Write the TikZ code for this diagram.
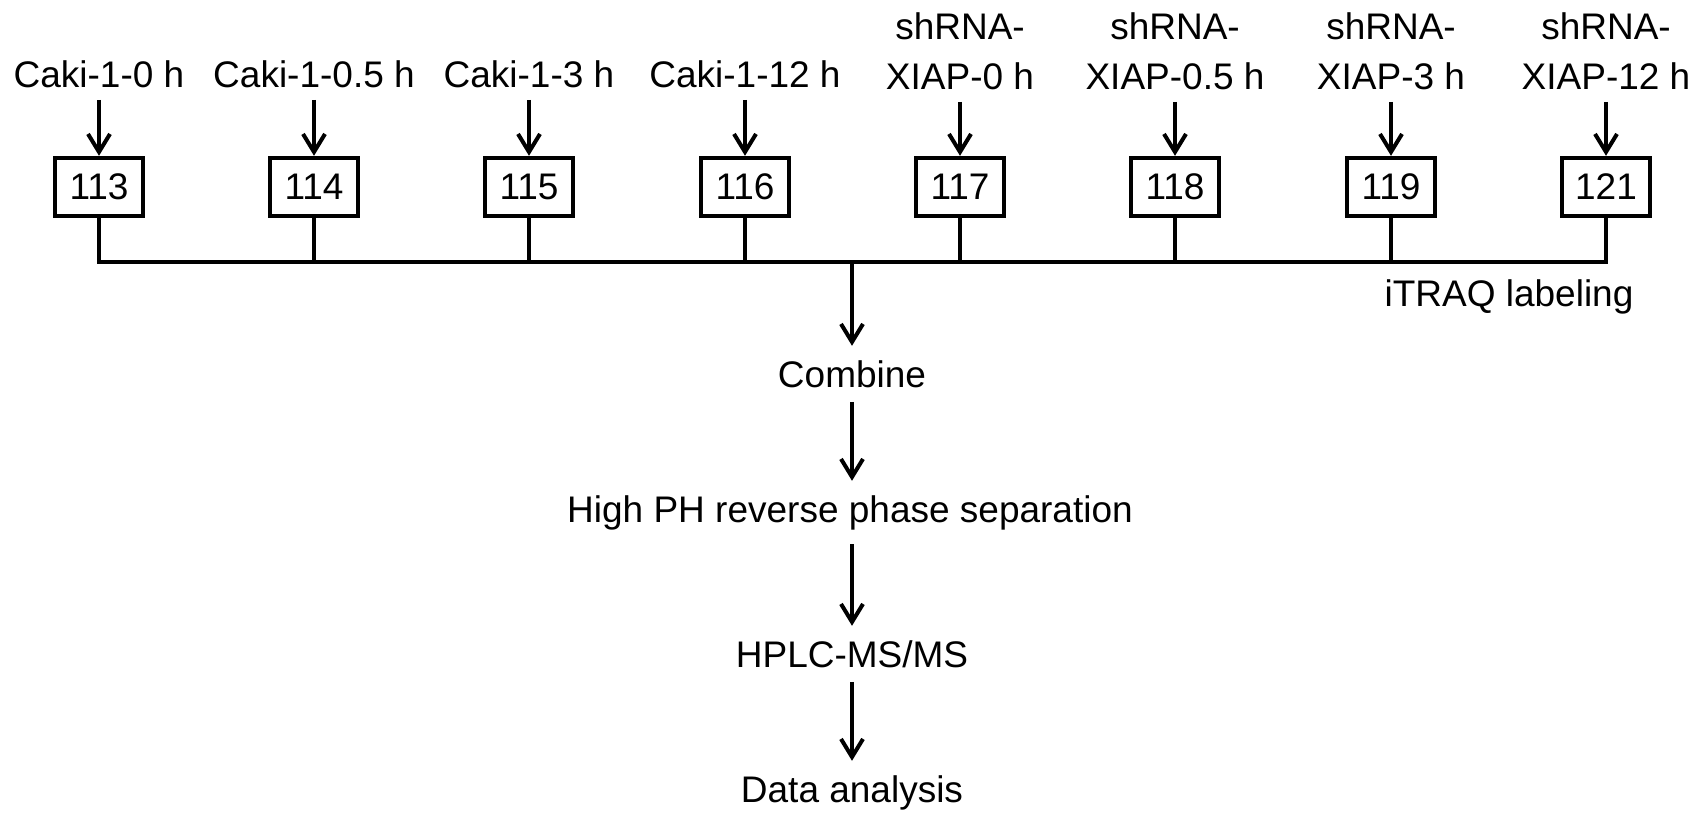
\documentclass[tikz,border=0pt]{standalone}
\usepackage{fontspec}
\setmainfont{Liberation Sans}
\usepackage{tikz}
\usetikzlibrary{positioning, arrows, arrows.meta}

\tikzset{
  tag/.style={draw, line width=2.2pt, minimum width=44pt, minimum height=29pt, inner sep=0pt},
  sample/.style={anchor=south, inner sep=6pt, align=center},
  stepnode/.style={anchor=base, inner sep=7pt},
  flow/.style={line width=2pt, -{Straight Barb[length=9pt, width=11pt]}},
  wire/.style={line width=2pt}
}

\begin{document}
\begin{tikzpicture}[x=0.5pt, y=-0.5pt, every node/.style={font=\fontsize{18.5}{25}\selectfont}]
\useasboundingbox (0,0) rectangle (1701,823);

% samples
\node[sample] (l113) at (99,100)   {Caki-1-0 h};
\node[sample] (l114) at (314,100)  {Caki-1-0.5 h};
\node[sample] (l115) at (529,100)  {Caki-1-3 h};
\node[sample] (l116) at (745,100)  {Caki-1-12 h};
\node[sample] (l117) at (960,102)  {shRNA-\\XIAP-0 h};
\node[sample] (l118) at (1175,102) {shRNA-\\XIAP-0.5 h};
\node[sample] (l119) at (1391,102) {shRNA-\\XIAP-3 h};
\node[sample] (l121) at (1606,102) {shRNA-\\XIAP-12 h};

% iTRAQ tags
\node[tag] (b113) at (99,187)   {113};
\node[tag] (b114) at (314,187)  {114};
\node[tag] (b115) at (529,187)  {115};
\node[tag] (b116) at (745,187)  {116};
\node[tag] (b117) at (960,187)  {117};
\node[tag] (b118) at (1175,187) {118};
\node[tag] (b119) at (1391,187) {119};
\node[tag] (b121) at (1606,187) {121};

\draw[flow] (l113) -- (b113);
\draw[flow] (l114) -- (b114);
\draw[flow] (l115) -- (b115);
\draw[flow] (l116) -- (b116);
\draw[flow] (l117) -- (b117);
\draw[flow] (l118) -- (b118);
\draw[flow] (l119) -- (b119);
\draw[flow] (l121) -- (b121);

% collecting line
\coordinate (busM) at (852,262);
\draw[wire] (b113.south) |- (b121.south |- busM) -- (b121.south);
\draw[wire] (b114.south) -- (b114.south |- busM);
\draw[wire] (b115.south) -- (b115.south |- busM);
\draw[wire] (b116.south) -- (b116.south |- busM);
\draw[wire] (b117.south) -- (b117.south |- busM);
\draw[wire] (b118.south) -- (b118.south |- busM);
\draw[wire] (b119.south) -- (b119.south |- busM);

\node[stepnode] (itraq) at (1509,307) {iTRAQ labeling};

% workflow
\node[stepnode] (combine) at (852,387) {Combine};
\node[stepnode] (sep)     at (850,522) {High PH reverse phase separation};
\node[stepnode] (hplc)    at (852,667) {HPLC-MS/MS};
\node[stepnode] (data)    at (852,802) {Data analysis};

\draw[flow] (busM) -- (combine);
\draw[flow] (combine) -- (combine |- sep.north);
\draw[flow] (sep.south -| combine) -- (combine |- hplc.north);
\draw[flow] (hplc) -- (data);
\end{tikzpicture}
\end{document}
